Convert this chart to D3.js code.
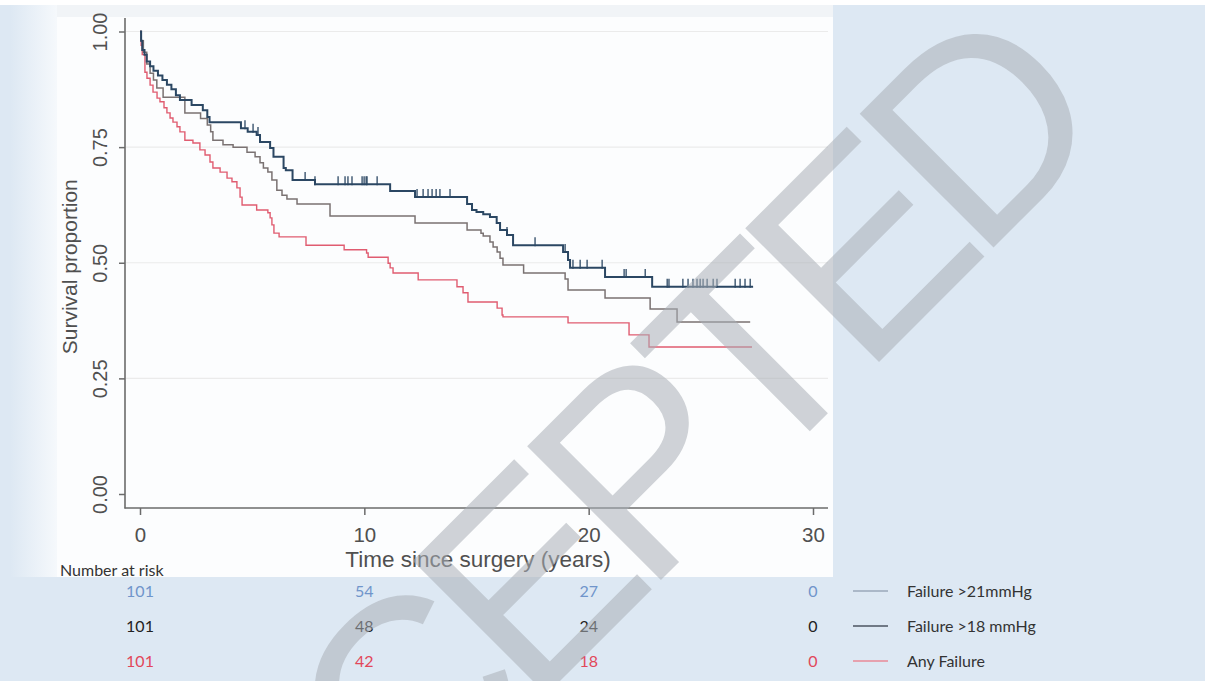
<!DOCTYPE html>
<html><head><meta charset="utf-8">
<script src="https://cdn.jsdelivr.net/npm/d3@7"></script>
<style>body{margin:0;background:#fff;} svg{display:block;}</style>
</head><body>
<svg id="chart" width="1205" height="681"></svg>
<script>
// ---------------- data ----------------
const xTickValues = [0, 10, 20, 30];
const yTickValues = [0, 0.25, 0.5, 0.75, 1];
const seriesNames = ["Failure >21mmHg", "Failure >18 mmHg", "Any Failure"];
const riskTimes = [0, 10, 20, 30];
const riskBlue = [101, 54, 27, 0];
const riskGray = [101, 48, 24, 0];
const riskRed  = [101, 42, 18, 0];

// Kaplan-Meier steps: time (years) at which survival changes, and new survival
const blueT = [0,0.05,0.1,0.2,0.3,0.45,0.6,0.8,1.0,1.2,1.4,1.6,1.78,2.3,2.8,3.0,3.1,4.5,4.8,5.2,5.35,5.8,5.95,6.4,6.5,6.8,7.8,11.15,12.26,14.58,14.8,15.0,15.3,15.6,15.9,16.05,16.36,16.63,18.86,19.08,19.17,20.73,22.83];
const blueS = [1.0,0.98,0.96,0.95,0.935,0.925,0.915,0.905,0.895,0.885,0.875,0.862,0.852,0.841,0.830,0.815,0.804,0.791,0.783,0.776,0.761,0.748,0.729,0.705,0.70,0.679,0.670,0.655,0.642,0.627,0.614,0.610,0.605,0.599,0.586,0.571,0.560,0.538,0.523,0.506,0.489,0.469,0.448];
const blueEnd = 27.33;
const blueCensor = [4.68,5.04,5.26,7.36,7.8,8.83,9.14,9.27,9.45,9.9,9.99,10.08,10.12,10.57,12.35,12.62,12.84,13.02,13.2,13.37,13.82,16.36,17.61,18.95,19.3,19.62,19.93,20.6,21.58,21.67,22.52,23.5,23.58,24.2,24.43,24.65,24.83,24.97,25.1,25.28,25.55,25.72,26.53,26.75,26.97,27.2];

const grayT = [0,0.05,0.15,0.3,0.45,0.6,0.75,1.03,2.0,2.7,3.0,3.15,3.25,3.7,4.15,4.77,5.13,5.35,5.5,5.7,5.88,6.1,6.33,6.55,7.0,8.47,12.26,14.58,15.2,15.3,15.6,15.74,15.92,16.05,16.18,17.1,18.95,19.08,20.73,22.74,23.94];
const grayS = [1.0,0.98,0.955,0.93,0.91,0.895,0.878,0.858,0.824,0.812,0.798,0.783,0.765,0.755,0.750,0.739,0.729,0.716,0.705,0.696,0.679,0.657,0.646,0.638,0.627,0.601,0.586,0.571,0.564,0.558,0.545,0.534,0.523,0.510,0.495,0.478,0.465,0.441,0.424,0.40,0.372];
const grayEnd = 27.2;

const redT = [0,0.05,0.1,0.22,0.31,0.45,0.58,0.76,0.89,1.07,1.2,1.34,1.47,1.65,1.78,2.0,2.36,2.67,2.9,3.12,3.25,3.57,3.88,4.1,4.32,4.46,4.55,5.2,5.7,5.8,5.88,5.97,6.2,7.4,9.1,10.1,10.17,11.06,11.15,11.28,12.4,14.13,14.4,14.62,15.92,16.14,16.18,19.08,21.8,22.69];
const redS = [1.0,0.97,0.95,0.912,0.899,0.884,0.869,0.856,0.848,0.835,0.824,0.813,0.804,0.794,0.783,0.765,0.759,0.744,0.733,0.718,0.705,0.696,0.683,0.675,0.662,0.642,0.625,0.614,0.608,0.597,0.582,0.564,0.556,0.538,0.528,0.521,0.512,0.499,0.489,0.478,0.463,0.448,0.435,0.415,0.402,0.387,0.383,0.370,0.344,0.318];
const redEnd = 27.28;

const watermarkText = "ACCEPTED";

// ---------------- drawing ----------------
const svg = d3.select("#chart");
const x = d3.scaleLinear().domain([0, 30]).range([140, 813]);
const y = d3.scaleLinear().domain([0, 1]).range([494, 31.5]);

const defs = svg.append("defs");
const gLeft = defs.append("linearGradient").attr("id", "gl").attr("x1", "0").attr("x2", "1").attr("y1", "0").attr("y2", "0");
gLeft.append("stop").attr("offset", "0").attr("stop-color", "#dde8f3");
gLeft.append("stop").attr("offset", "1").attr("stop-color", "#f6f9fc");

// page background
svg.append("rect").attr("width", 1205).attr("height", 681).attr("fill", "#ffffff");
svg.append("rect").attr("x", 0).attr("y", 5).attr("width", 1205).attr("height", 676).attr("fill", "#dde8f3");
// graph panel
svg.append("rect").attr("x", 10).attr("y", 5).attr("width", 48).attr("height", 572).attr("fill", "url(#gl)");
svg.append("rect").attr("x", 57).attr("y", 5).attr("width", 776).attr("height", 572).attr("fill", "#fcfdfe");
svg.append("rect").attr("x", 57).attr("y", 5).attr("width", 776).attr("height", 12).attr("fill", "#f1f4f7");

// grid lines
svg.append("g").selectAll("line").data(yTickValues.filter(d => d > 0)).join("line")
  .attr("x1", 126).attr("x2", 828)
  .attr("y1", d => y(d)).attr("y2", d => y(d))
  .attr("stroke", "#ebebeb").attr("stroke-width", 1.2);

// axes
const axisColor = "#6b6b6b";
const yAxis = svg.append("g").attr("transform", "translate(125,0)")
  .call(d3.axisLeft(y).tickValues(yTickValues).tickSize(6).tickFormat(d3.format(".2f")));
yAxis.select(".domain").remove();
yAxis.selectAll(".tick line").attr("stroke", axisColor).attr("stroke-width", 1.5);
yAxis.selectAll(".tick text")
  .attr("transform", "rotate(-90)").attr("x", 0).attr("y", -18).attr("dy", 0)
  .attr("text-anchor", "middle")
  .attr("font-family", "Liberation Sans, Arial, sans-serif").attr("font-size", 20).attr("fill", "#505050");

const xAxis = svg.append("g").attr("transform", "translate(0,508)")
  .call(d3.axisBottom(x).tickValues(xTickValues).tickSize(7).tickFormat(d3.format("d")));
xAxis.select(".domain").remove();
xAxis.selectAll(".tick line").attr("stroke", axisColor).attr("stroke-width", 1.5);
xAxis.selectAll(".tick text").attr("y", 34).attr("dy", 0)
  .attr("font-family", "Liberation Sans, Arial, sans-serif").attr("font-size", 20.5).attr("fill", "#505050");

svg.append("line").attr("x1", 125).attr("x2", 125).attr("y1", 18).attr("y2", 508.5)
  .attr("stroke", axisColor).attr("stroke-width", 1.6);
svg.append("line").attr("x1", 124.5).attr("x2", 828).attr("y1", 508).attr("y2", 508)
  .attr("stroke", axisColor).attr("stroke-width", 1.6);

// axis titles
svg.append("text").attr("transform", `translate(77,${y(0.5) + 4}) rotate(-90)`)
  .attr("text-anchor", "middle").attr("font-family", "Liberation Sans, Arial, sans-serif")
  .attr("font-size", 21).attr("fill", "#505050").text("Survival proportion");
svg.append("text").attr("x", 478).attr("y", 567)
  .attr("text-anchor", "middle").attr("font-family", "Liberation Sans, Arial, sans-serif")
  .attr("font-size", 22.5).attr("fill", "#505050").text("Time since surgery (years)");

// curves
function steps(T, S, end) {
  const pts = T.map((t, i) => [t, S[i]]);
  pts.push([end, S[S.length - 1]]);
  return pts;
}
function survAt(T, S, t) {
  let s = S[0];
  for (let i = 0; i < T.length; i++) if (T[i] <= t) s = S[i];
  return s;
}
const line = d3.line().x(d => x(d[0])).y(d => y(d[1])).curve(d3.curveStepAfter);
const curves = [
  {T: redT, S: redS, end: redEnd, color: "#e05c70", w: 1.4},
  {T: grayT, S: grayS, end: grayEnd, color: "#7a7272", w: 1.5},
  {T: blueT, S: blueS, end: blueEnd, color: "#2b4763", w: 2}
];
svg.append("g").selectAll("path").data(curves).join("path")
  .attr("d", d => line(steps(d.T, d.S, d.end)))
  .attr("fill", "none").attr("stroke", d => d.color).attr("stroke-width", d => d.w)
  .attr("stroke-linejoin", "miter");

svg.append("g").selectAll("line").data(blueCensor).join("line")
  .attr("x1", d => x(d)).attr("x2", d => x(d))
  .attr("y1", d => y(survAt(blueT, blueS, d)) - 8)
  .attr("y2", d => y(survAt(blueT, blueS, d)) + 1)
  .attr("stroke", "#2b4763").attr("stroke-width", 1.3);

// number at risk table
const tf = "Lato, 'Open Sans', sans-serif";
svg.append("text").attr("x", 60).attr("y", 576).attr("font-family", tf).attr("font-size", 16)
  .attr("fill", "#333").text("Number at risk");
const rows = [
  {vals: riskBlue, color: "#7095cb", base: 597},
  {vals: riskGray, color: "#222222", base: 632},
  {vals: riskRed, color: "#e2475a", base: 667}
];
rows.forEach(r => {
  svg.append("g").selectAll("text").data(r.vals).join("text")
    .attr("x", (d, i) => x(riskTimes[i])).attr("y", r.base)
    .attr("text-anchor", "middle").attr("font-family", tf).attr("font-size", 16)
    .attr("fill", r.color).text(d => d);
});

// legend
const legendColors = ["#9aa9ba", "#4b5560", "#e98a97"];
seriesNames.forEach((name, i) => {
  const base = rows[i].base;
  svg.append("line").attr("x1", 853).attr("x2", 888).attr("y1", base - 6).attr("y2", base - 6)
    .attr("stroke", legendColors[i]).attr("stroke-width", 1.6);
  svg.append("text").attr("x", 907).attr("y", base).attr("font-family", tf).attr("font-size", 16)
    .attr("fill", "#333").text(name);
});

// watermark
svg.append("text").attr("transform", "translate(1118,123) rotate(-45)")
  .attr("text-anchor", "end").attr("font-family", "Liberation Sans, Arial, sans-serif")
  .attr("font-size", 275).attr("fill", "#a9afb6").attr("fill-opacity", 0.55)
  .attr("textLength", 1347).attr("lengthAdjust", "spacing")
  .text(watermarkText);
</script>
</body></html>
